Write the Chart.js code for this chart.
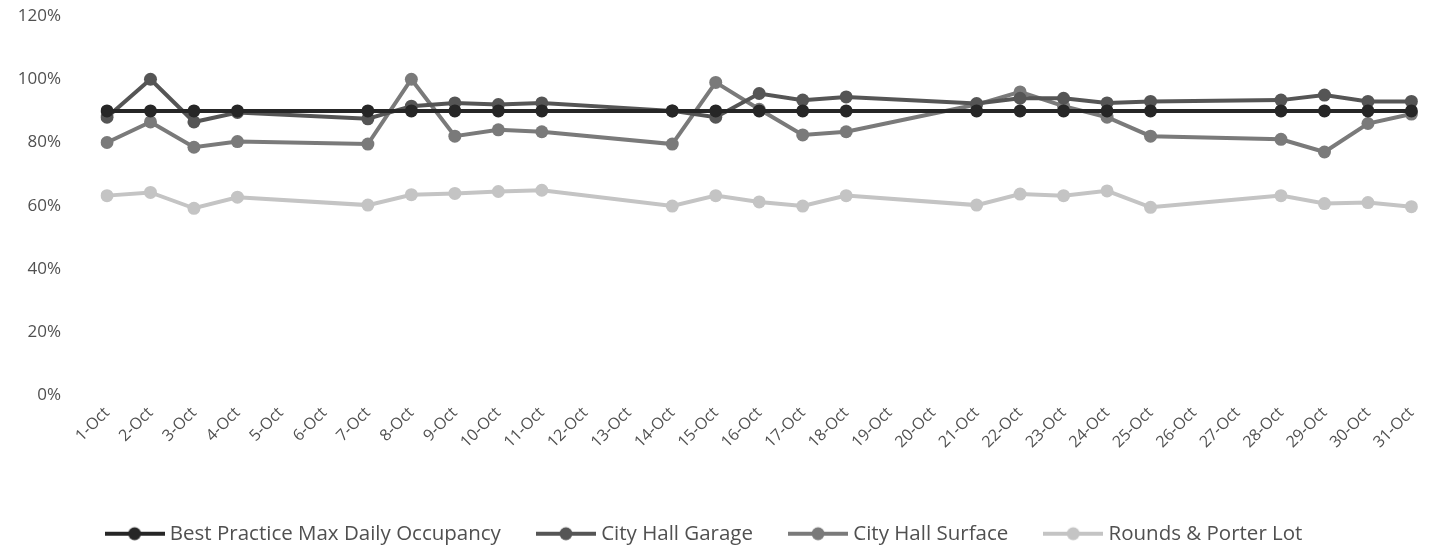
<!DOCTYPE html>
<html>
<head>
<meta charset="utf-8">
<script src="https://cdn.jsdelivr.net/npm/chart.js"></script>
<style>
  html, body { margin: 0; padding: 0; background: #fff; }
  #wrap { width: 1433px; height: 550px; position: relative; }
</style>
</head>
<body>
<div id="wrap"><canvas id="chartCanvas"></canvas></div>
<script>
// Kategorien (Tage im Oktober)
const days = ['1-Oct', '2-Oct', '3-Oct', '4-Oct', '5-Oct', '6-Oct', '7-Oct', '8-Oct', '9-Oct', '10-Oct',
    '11-Oct', '12-Oct', '13-Oct', '14-Oct', '15-Oct', '16-Oct', '17-Oct', '18-Oct', '19-Oct', '20-Oct',
    '21-Oct', '22-Oct', '23-Oct', '24-Oct', '25-Oct', '26-Oct', '27-Oct', '28-Oct', '29-Oct', '30-Oct', '31-Oct'];

// Belegung in %, Wochenenden ohne Werte (null)
const bestPractice = [90, 90, 90, 90, null, null, 90, 90, 90, 90, 90, null, null, 90, 90, 90, 90, 90, null, null,
    90, 90, 90, 90, 90, null, null, 90, 90, 90, 90];
const cityHallGarage = [88, 100, 86.5, 89.5, null, null, 87.5, 91.5, 92.5, 92, 92.5, null, null, 90, 88, 95.5, 93.4, 94.4, null, null,
    92.3, 94, 94, 92.5, 93, null, null, 93.4, 95, 93, 93];
const cityHallSurface = [80, 86.5, 78.5, 80.3, null, null, 79.5, 100, 82, 84, 83.4, null, null, 79.5, 99, 90.5, 82.4, 83.4, null, null,
    92, 96, 91.5, 88, 82, null, null, 81, 77, 86, 89];
const roundsPorter = [63.2, 64.2, 59.2, 62.7, null, null, 60.2, 63.5, 63.9, 64.5, 64.9, null, null, 59.9, 63.2, 61.2, 59.9, 63.2, null, null,
    60.2, 63.7, 63.2, 64.7, 59.5, null, null, 63.2, 60.7, 61, 59.7];

const yTicks = [0, 20, 40, 60, 80, 100, 120];

const textColor = '#505050';
const fontFamily = "'Open Sans', 'DejaVu Sans', sans-serif";

// Legenden-Symbol: Linie mit Kreis in der Mitte
function legendMarker(color) {
    const c = document.createElement('canvas');
    c.width = 60;
    c.height = 16;
    const g = c.getContext('2d');
    g.strokeStyle = color;
    g.lineWidth = 4;
    g.beginPath();
    g.moveTo(0, 8);
    g.lineTo(60, 8);
    g.stroke();
    g.fillStyle = color;
    g.beginPath();
    g.arc(30, 8, 6.5, 0, Math.PI * 2);
    g.fill();
    return c;
}

function series(label, data, color) {
    return {
        label: label,
        data: data,
        borderColor: color,
        backgroundColor: color,
        borderWidth: 4,
        pointRadius: 6.5,
        pointHoverRadius: 6.5,
        pointBackgroundColor: color,
        pointBorderWidth: 0,
        tension: 0,
        spanGaps: true,
        marker: legendMarker(color)
    };
}

const datasets = [
    series('Best Practice Max Daily Occupancy', bestPractice, '#262626'),
    series('City Hall Garage', cityHallGarage, '#555555'),
    series('City Hall Surface', cityHallSurface, '#7a7a7a'),
    series('Rounds & Porter Lot', roundsPorter, '#c4c4c4')
];

const ctx = document.getElementById('chartCanvas').getContext('2d');
new Chart(ctx, {
    type: 'line',
    data: { labels: days, datasets: datasets },
    options: {
        responsive: true,
        maintainAspectRatio: false,
        animation: false,
        layout: { padding: { top: 16, right: 21, bottom: -4, left: 0 } },
        scales: {
            x: {
                type: 'category',
                offset: false,
                grid: { display: false, drawTicks: false },
                border: { display: false },
                ticks: {
                    color: textColor,
                    font: { family: fontFamily, size: 16 },
                    minRotation: 45,
                    maxRotation: 45,
                    autoSkip: false,
                    padding: 8
                },
                afterFit: s => { s.height = 88; }
            },
            y: {
                min: 0,
                max: 120,
                afterBuildTicks: s => { s.ticks = yTicks.map(v => ({ value: v })); },
                grid: { display: false, drawTicks: false },
                border: { display: false },
                ticks: {
                    color: textColor,
                    font: { family: fontFamily, size: 17 },
                    padding: 46,
                    callback: v => v + '%'
                },
                afterFit: s => {
                    s.width = 107;
                    s.paddingTop = 8;
                    s.paddingBottom = 8;
                }
            }
        },
        plugins: {
            tooltip: { enabled: false },
            legend: {
                position: 'bottom',
                labels: {
                    color: textColor,
                    font: { family: fontFamily, size: 20.5 },
                    usePointStyle: true,
                    pointStyleWidth: 50,
                    padding: 40,
                    generateLabels(chart) {
                        return chart.data.datasets.map((ds, i) => ({
                            text: ds.label,
                            fillStyle: ds.borderColor,
                            strokeStyle: ds.borderColor,
                            lineWidth: 0,
                            pointStyle: ds.marker,
                            fontColor: textColor,
                            hidden: false,
                            datasetIndex: i
                        }));
                    }
                }
            }
        }
    }
});
</script>
</body>
</html>
